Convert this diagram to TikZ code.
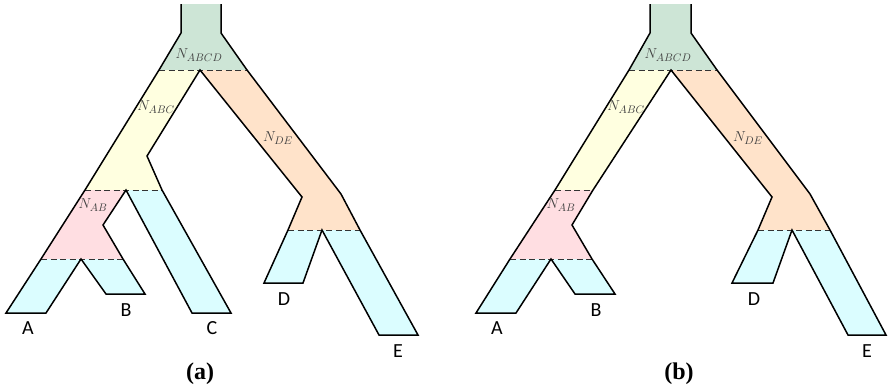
\documentclass[tikz,border=0pt]{standalone}
\usepackage{fontspec}
\newfontfamily\labfont{Carlito}
\newfontfamily\capfont{Liberation Serif}
\definecolor{cgreen}{HTML}{CDE5D6}
\definecolor{cyellow}{HTML}{FFFFE0}
\definecolor{cpink}{HTML}{FFDEE2}
\definecolor{ccyan}{HTML}{DBFDFF}
\definecolor{corange}{HTML}{FFE3CA}
\definecolor{ctext}{HTML}{404040}
\begin{document}
\begin{tikzpicture}[x=1pt,y=-1pt,
  outline/.style={line width=1.5pt,line join=miter,black},
  cut/.style={dash pattern=on 6pt off 3.5pt,line width=1pt,black!80},
  nlab/.style={text=ctext,font=\fontsize{15}{17}\selectfont,inner sep=0pt},
  leaf/.style={font=\labfont\fontsize{20}{22}\selectfont,inner sep=0pt},
  captionlab/.style={font=\capfont\bfseries\fontsize{24}{26}\selectfont,inner sep=0pt}]
\useasboundingbox (0,0) rectangle (888,389);
% ---------------- panel (a) ----------------
\fill[cgreen] (181,4)--(221,4)--(221,33)--(247,70)--(159,70)--(181,33)--cycle;
\fill[cyellow] (159,70)--(200,70)--(147,156)--(162,190)--(85,190)--cycle;
\fill[corange] (200,70)--(247,70)--(341,194)--(360,230)--(288,230)--(302,197)--cycle;
\fill[cpink] (85,190)--(126,190)--(103,225)--(123,259)--(41,259)--cycle;
\fill[ccyan] (126,190)--(162,190)--(231,313)--(192,313)--cycle;
\fill[ccyan] (41,259)--(81,259)--(46,313)--(6,313)--cycle;
\fill[ccyan] (81,259)--(123,259)--(145,294)--(106,294)--cycle;
\fill[ccyan] (288,230)--(322,230)--(303,283)--(264,283)--cycle;
\fill[ccyan] (322,230)--(360,230)--(418,335)--(379,335)--cycle;
\draw[cut] (159,70)--(247,70);
\draw[cut] (85,190)--(162,190);
\draw[cut] (41,259)--(123,259);
\draw[cut] (288,230)--(360,230);
\draw[outline] (181,4)--(181,33)--(159,70)--(85,190)--(41,259)--(6,313)--(46,313)--(81,259)
  --(106,294)--(145,294)--(123,259)--(103,225)--(126,190)--(192,313)--(231,313)--(162,190)
  --(147,156)--(200,70)--(302,197)--(288,230)--(264,283)--(303,283)--(322,230)--(379,335)
  --(418,335)--(360,230)--(341,194)--(247,70)--(221,33)--(221,4);
\node[nlab] (a1) at (199,55) {$N_{ABCD}$};
\node[nlab] (a2) at (156,107) {$N_{ABC}$};
\node[nlab] (a3) at (93,205) {$N_{AB}$};
\node[nlab] (a4) at (278,138) {$N_{DE}$};
\node[leaf] (aA) at (28,328) {A};
\node[leaf] (aB) at (126,310) {B};
\node[leaf] (aC) at (212,328) {C};
\node[leaf] (aD) at (284,299) {D};
\node[leaf] (aE) at (398,351) {E};
\node[captionlab] (ca) at (200,374) {(a)};
% ---------------- panel (b) ----------------
\fill[cgreen] (650,4)--(691,4)--(691,33)--(717,70)--(629,70)--(650,33)--cycle;
\fill[cyellow] (629,70)--(671,70)--(593,190)--(555,190)--cycle;
\fill[corange] (671,70)--(717,70)--(810,194)--(830,230)--(758,230)--(772,197)--cycle;
\fill[cpink] (555,190)--(593,190)--(572,225)--(592,259)--(510,259)--cycle;
\fill[ccyan] (510,259)--(551,259)--(516,313)--(476,313)--cycle;
\fill[ccyan] (551,259)--(592,259)--(615,294)--(575,294)--cycle;
\fill[ccyan] (758,230)--(792,230)--(773,283)--(732,283)--cycle;
\fill[ccyan] (792,230)--(830,230)--(886,335)--(848,335)--cycle;
\draw[cut] (629,70)--(717,70);
\draw[cut] (555,190)--(593,190);
\draw[cut] (510,259)--(592,259);
\draw[cut] (758,230)--(830,230);
\draw[outline] (650,4)--(650,33)--(629,70)--(555,190)--(510,259)--(476,313)--(516,313)--(551,259)
  --(575,294)--(615,294)--(592,259)--(572,225)--(593,190)--(671,70)--(772,197)--(758,230)
  --(732,283)--(773,283)--(792,230)--(848,335)--(886,335)--(830,230)--(810,194)--(717,70)
  --(691,33)--(691,4);
\node[nlab] (b1) at (668,55) {$N_{ABCD}$};
\node[nlab] (b2) at (626,107) {$N_{ABC}$};
\node[nlab] (b3) at (561,205) {$N_{AB}$};
\node[nlab] (b4) at (748,138) {$N_{DE}$};
\node[leaf] (bA) at (497,328) {A};
\node[leaf] (bB) at (596,310) {B};
\node[leaf] (bD) at (754,299) {D};
\node[leaf] (bE) at (867,351) {E};
\node[captionlab] (cb) at (679,374) {(b)};
\end{tikzpicture}
\end{document}
